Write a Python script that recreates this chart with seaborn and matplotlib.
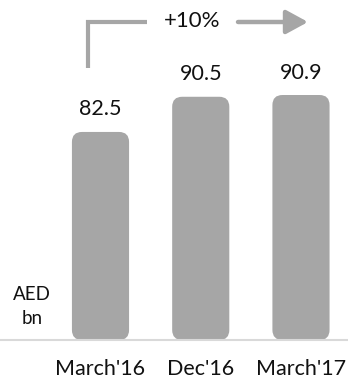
import matplotlib
matplotlib.use("Agg")
import matplotlib.pyplot as plt
import seaborn as sns
import pandas as pd
from matplotlib.patches import FancyBboxPatch
from matplotlib.lines import Line2D

categories = ["March'16", "Dec'16", "March'17"]
values = [82.5, 90.5, 90.9]
growth_label = "+10%"
unit_label = "AED\nbn"

sns.set_theme(style="white")
plt.rcParams['font.family'] = ['Lato', 'DejaVu Sans']

W, H = 348, 380
fig = plt.figure(figsize=(W / 100, H / 100), dpi=100)
ax = fig.add_axes([0, 40 / H, 1, 340 / H])

df = pd.DataFrame({"period": categories, "value": values})
sns.barplot(data=df, x="period", y="value", color="#a6a6a6", width=0.57,
            saturation=1, ax=ax)

ymin, ymax = 35.2, 112.5
ax.set_ylim(ymin, ymax)
ax.set_xlim(-1.0025, 2.469)

# replace bars by rounded bars
px_per_x = 100.25
px_per_y = 340 / (ymax - ymin)
aspect = px_per_x / px_per_y
for p in list(ax.patches):
    x, w, h = p.get_x(), p.get_width(), p.get_height()
    p.remove()
    fb = FancyBboxPatch((x, ymin), w, h - ymin,
                        boxstyle="round,pad=0,rounding_size=0.1",
                        mutation_aspect=aspect,
                        facecolor="#a6a6a6", edgecolor="none", zorder=2)
    ax.add_patch(fb)

for i, v in enumerate(values):
    ax.annotate(f"{v}", (i, v), xytext=(0, 9), textcoords="offset points",
                ha="center", va="bottom", fontsize=15.5, color="#111111")

sns.despine(ax=ax, left=True, top=True, right=True)
ax.spines['bottom'].set_color("#d9d9d9")
ax.spines['bottom'].set_linewidth(1.5)
ax.set_xlabel("")
ax.set_ylabel("")
ax.set_yticks([])
ax.tick_params(axis="x", length=0, pad=14, labelsize=15.5, labelcolor="#111111")

# growth bracket and arrow (figure pixel coords)
def fx(px):
    return px / W

def fy(py):
    return 1 - py / H

gray = "#a6a6a6"
fig.add_artist(Line2D([fx(87.5), fx(87.5), fx(147)], [fy(68), fy(22), fy(22)],
                      color=gray, lw=3, solid_joinstyle="miter",
                      solid_capstyle="butt"))
fig.text(fx(192), fy(21), growth_label, ha="center", va="center",
         fontsize=16, color="#111111")
ax.annotate("", xy=(fx(308), fy(22)), xycoords="figure fraction",
            xytext=(fx(238), fy(22)), textcoords="figure fraction",
            arrowprops=dict(arrowstyle="-|>,head_length=1.1,head_width=0.6",
                            color=gray, lw=3.2, shrinkA=0, shrinkB=0))

fig.text(fx(32), fy(306.5), unit_label, ha="center", va="center",
         fontsize=13.5, color="#111111", linespacing=1.45)

fig.savefig("out.png", dpi=100)
